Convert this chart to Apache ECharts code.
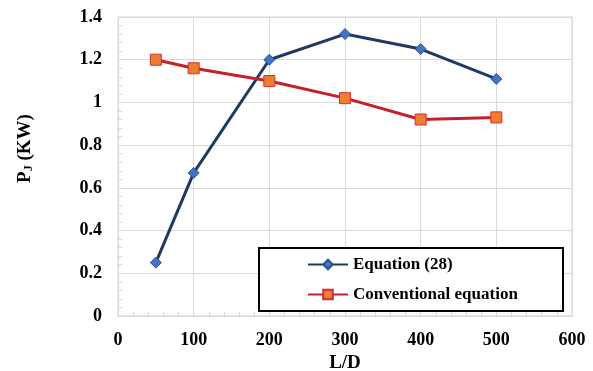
<!DOCTYPE html>
<html><head><meta charset="utf-8">
<script src="https://cdn.jsdelivr.net/npm/echarts@6/dist/echarts.min.js"></script>
<style>html,body{margin:0;padding:0;background:#fff}#c{width:593px;height:371px}</style>
</head><body><div id="c"></div>
<script>
const xValues = [50, 100, 200, 300, 400, 500];
const eq28 = [0.25, 0.67, 1.20, 1.32, 1.25, 1.11];
const conventional = [1.20, 1.16, 1.10, 1.02, 0.92, 0.93];
const seriesNames = ['Equation (28)', 'Conventional equation'];

const font = 'Liberation Serif, Times New Roman, serif';
const chart = echarts.init(document.getElementById('c'));
chart.setOption({
  animation: false,
  grid: {left: 118, right: 21, top: 17, bottom: 55, show: true, borderColor: '#d9d9d9', borderWidth: 1, containLabel: false, outerBoundsMode: 'none'},
  graphic: [{type: 'rect', left: 258, top: 247, shape: {width: 304, height: 63}, style: {fill: '#fff', stroke: '#000', lineWidth: 2}, z: 10}],
  legend: {
    left: 302, top: 251, orient: 'vertical', itemGap: 13, itemWidth: 40, itemHeight: 12, itemTextGap: 4, z: 20,
    textStyle: {fontFamily: font, fontWeight: 'bold', fontSize: 17, color: '#000'},
    data: seriesNames
  },
  xAxis: {
    type: 'value', min: 0, max: 600, interval: 100,
    name: 'L/D', nameLocation: 'middle', nameGap: 35,
    nameTextStyle: {fontFamily: font, fontWeight: 'bold', fontSize: 19, color: '#000'},
    axisLine: {show: true, lineStyle: {color: '#d9d9d9'}},
    axisTick: {show: true, inside: true, length: 5, lineStyle: {color: '#d9d9d9'}},
    minorTick: {show: true, splitNumber: 5, length: 4, lineStyle: {color: '#d9d9d9'}},
    axisLabel: {margin: 15, fontFamily: font, fontWeight: 'bold', fontSize: 18, color: '#000'},
    splitLine: {show: true, lineStyle: {color: '#d9d9d9', width: 1}}
  },
  yAxis: {
    type: 'value', min: 0, max: 1.4, interval: 0.2,
    name: '{a|P}{s|J}{a| (KW)}', nameLocation: 'middle', nameGap: 83, nameRotate: 90,
    nameTextStyle: {padding: [0, 0, 0, 36], rich: {
      a: {fontFamily: font, fontWeight: 'bold', fontSize: 19, color: '#000'},
      s: {fontFamily: font, fontWeight: 'bold', fontSize: 12, color: '#000', verticalAlign: 'bottom', padding: [8,0,0,0]}
    }},
    axisLine: {show: true, lineStyle: {color: '#d9d9d9'}},
    axisTick: {show: true, inside: true, length: 5, lineStyle: {color: '#d9d9d9'}},
    minorTick: {show: true, splitNumber: 5, length: 4, lineStyle: {color: '#d9d9d9'}},
    axisLabel: {margin: 16, fontFamily: font, fontWeight: 'bold', fontSize: 18, color: '#000',
      formatter: v => String(Math.round(v * 10) / 10)},
    splitLine: {show: true, lineStyle: {color: '#d9d9d9', width: 1}}
  },
  series: [
    {name: seriesNames[0], type: 'line', data: xValues.map((x, i) => [x, eq28[i]]),
     symbol: 'diamond', symbolSize: 11,
     lineStyle: {color: '#203864', width: 3},
     itemStyle: {color: '#4472C4', borderColor: '#2F528F', borderWidth: 1}},
    {name: seriesNames[1], type: 'line', data: xValues.map((x, i) => [x, conventional[i]]),
     symbol: 'rect', symbolSize: 11,
     lineStyle: {color: '#C8202A', width: 3},
     itemStyle: {color: '#ED7D31', borderColor: '#D03030', borderWidth: 1}}
  ]
});
</script></body></html>
